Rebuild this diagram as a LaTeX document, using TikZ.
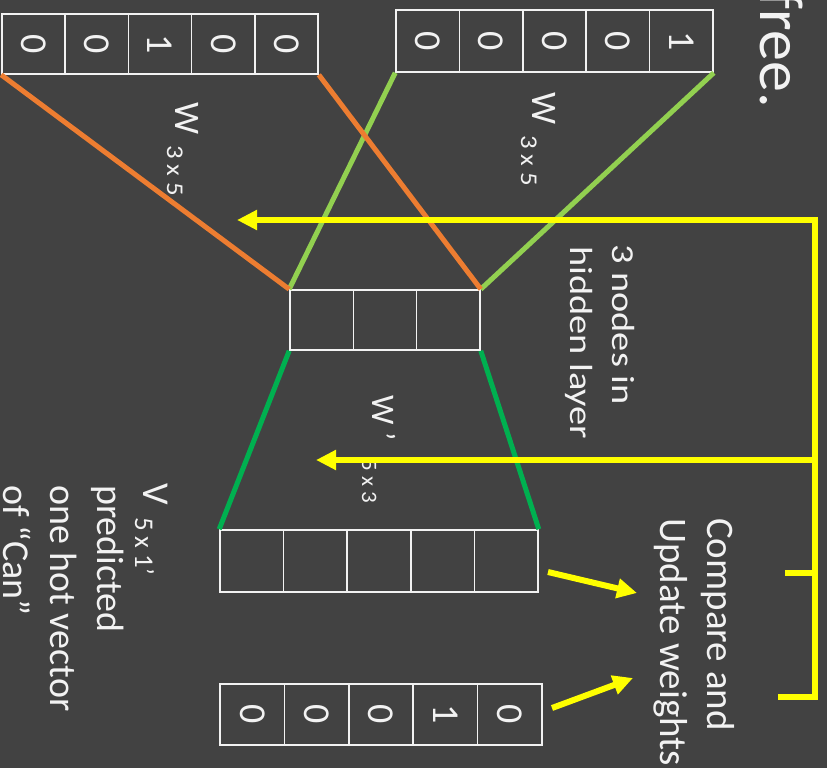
\documentclass[tikz,border=0pt]{standalone}
\usepackage{fontspec}
\usepackage{graphicx}
\setmainfont{Carlito}
\usetikzlibrary{arrows.meta}
\definecolor{bg}{HTML}{424242}
\definecolor{orng}{HTML}{ED7D31}
\definecolor{lgreen}{HTML}{92D050}
\definecolor{dgreen}{HTML}{00B050}
\definecolor{ylw}{HTML}{FFFF00}
\definecolor{txt}{HTML}{F2F2F2}
\begin{document}
\begin{tikzpicture}[x=1pt,y=-1pt,
  cell/.style={draw=txt, line width=1.6pt, inner sep=0pt, text=txt,
    font=\fontsize{38}{44}\selectfont},
  lbl/.style={rotate=-90, anchor=base west, inner sep=0pt, text=txt},
  big/.style={font=\fontsize{39}{47}\selectfont},
  wlbl/.style={font=\fontsize{36}{42}\selectfont},
  sub/.style={font=\fontsize{24}{28}\selectfont},
  org/.style={draw=orng, line width=5pt},
  lg/.style={draw=lgreen, line width=5pt},
  dg/.style={draw=dgreen, line width=5pt},
  yl/.style={draw=ylw, line width=6pt},
  ya/.style={yl, -{Triangle[length=20pt,width=19pt]}}
]
\fill[bg] (0,0) rectangle (827,768);
\useasboundingbox (0,0) rectangle (827,768);

% input vectors
\foreach \d [count=\i] in {0,0,1,0,0}
  \node[cell, minimum width=63.2pt, minimum height=60pt] (a\i) at ({2+63.2*(\i-0.5)},44) {\rotatebox{-90}{\d}};
\foreach \d [count=\i] in {0,0,0,0,1}
  \node[cell, minimum width=63.4pt, minimum height=62pt] (b\i) at ({396+63.4*(\i-0.5)},41) {\rotatebox{-90}{\d}};
% hidden layer
\foreach \i in {1,2,3}
  \node[cell, minimum width=63.33pt, minimum height=60pt] (h\i) at ({290+63.33*(\i-0.5)},320) {};
% output vector
\foreach \i in {1,...,5}
  \node[cell, minimum width=63.6pt, minimum height=62pt] (o\i) at ({220+63.6*(\i-0.5)},561) {};
% target vector
\foreach \d [count=\i] in {0,0,0,1,0}
  \node[cell, minimum width=64.4pt, minimum height=61pt] (t\i) at ({220+64.4*(\i-0.5)},714.5) {\rotatebox{-90}{\d}};

% weight connectors
\draw[lg] (b1.south west) -- (h1.north west);
\draw[lg] (b5.south east) -- (h3.north east);
\draw[org] (a1.south west) -- (h1.north west);
\draw[org] (a5.south east) -- (h3.north east);
\draw[dg] (h1.south west) -- (o1.north west);
\draw[dg] (h3.south east) -- (o5.north east);

% labels
\node[lbl, font=\fontsize{62}{70}\selectfont, anchor=base east] (free) at (760,108) {free.};
\node[lbl, wlbl] (w1) at (175,102) {W};
\node[lbl, sub] (w1s) at (167,145) {\scalebox{1.12}[1]{3 x 5}};
\node[lbl, wlbl] (w2) at (532,92) {W};
\node[lbl, sub] (w2s) at (521,135) {\scalebox{1.12}[1]{3 x 5}};
\node[lbl, font=\fontsize{32}{38}\selectfont] (hl1) at (612,244) {\scalebox{1.2}[1]{3 nodes in}};
\node[lbl, font=\fontsize{32}{38}\selectfont] (hl2) at (570,246) {\scalebox{1.2}[1]{hidden layer}};
\node[lbl, font=\fontsize{33}{38}\selectfont] (wp) at (372,395) {W ’};
\node[lbl, font=\fontsize{22}{26}\selectfont] (wps) at (362,459) {\scalebox{1.05}[1]{5 x 3}};
\node[lbl, font=\fontsize{38}{44}\selectfont] (v1) at (143,483) {V};
\node[lbl, font=\fontsize{27}{31}\selectfont] (v1s) at (135,517) {5 x 1’};
\node[lbl, font=\fontsize{38}{44}\selectfont] (v2) at (97,485) {predicted};
\node[lbl, font=\fontsize{38}{44}\selectfont] (v3) at (50,485) {one hot vector};
\node[lbl, font=\fontsize{38}{44}\selectfont] (v4) at (4,485) {of “Can”};
\node[lbl, big] (c1) at (707,518) {Compare and};
\node[lbl, big] (c2) at (660,518) {Update weights};

% yellow feedback arrows
\coordinate (ybend) at (778,697);
\coordinate (ybot) at (815,697);
\coordinate (ytop) at (815,220);
\coordinate (tipA) at (237,220);
\coordinate (ymid) at (815,460);
\coordinate (tipB) at (316,460);
\coordinate (ytick) at (815,573);
\coordinate (ytickend) at (785,573);
\draw[ya, line join=miter] (ybend) -- (ybot) -- (ytop) -- (tipA);
\draw[ya] (ymid) -- (tipB);
\draw[yl] (ytick) -- (ytickend);
\coordinate (s1) at (548,572);
\coordinate (e1) at (637,593);
\coordinate (s2) at (552,708);
\coordinate (e2) at (633,678);
\draw[ya] (s1) -- (e1);
\draw[ya] (s2) -- (e2);
\end{tikzpicture}
\end{document}
